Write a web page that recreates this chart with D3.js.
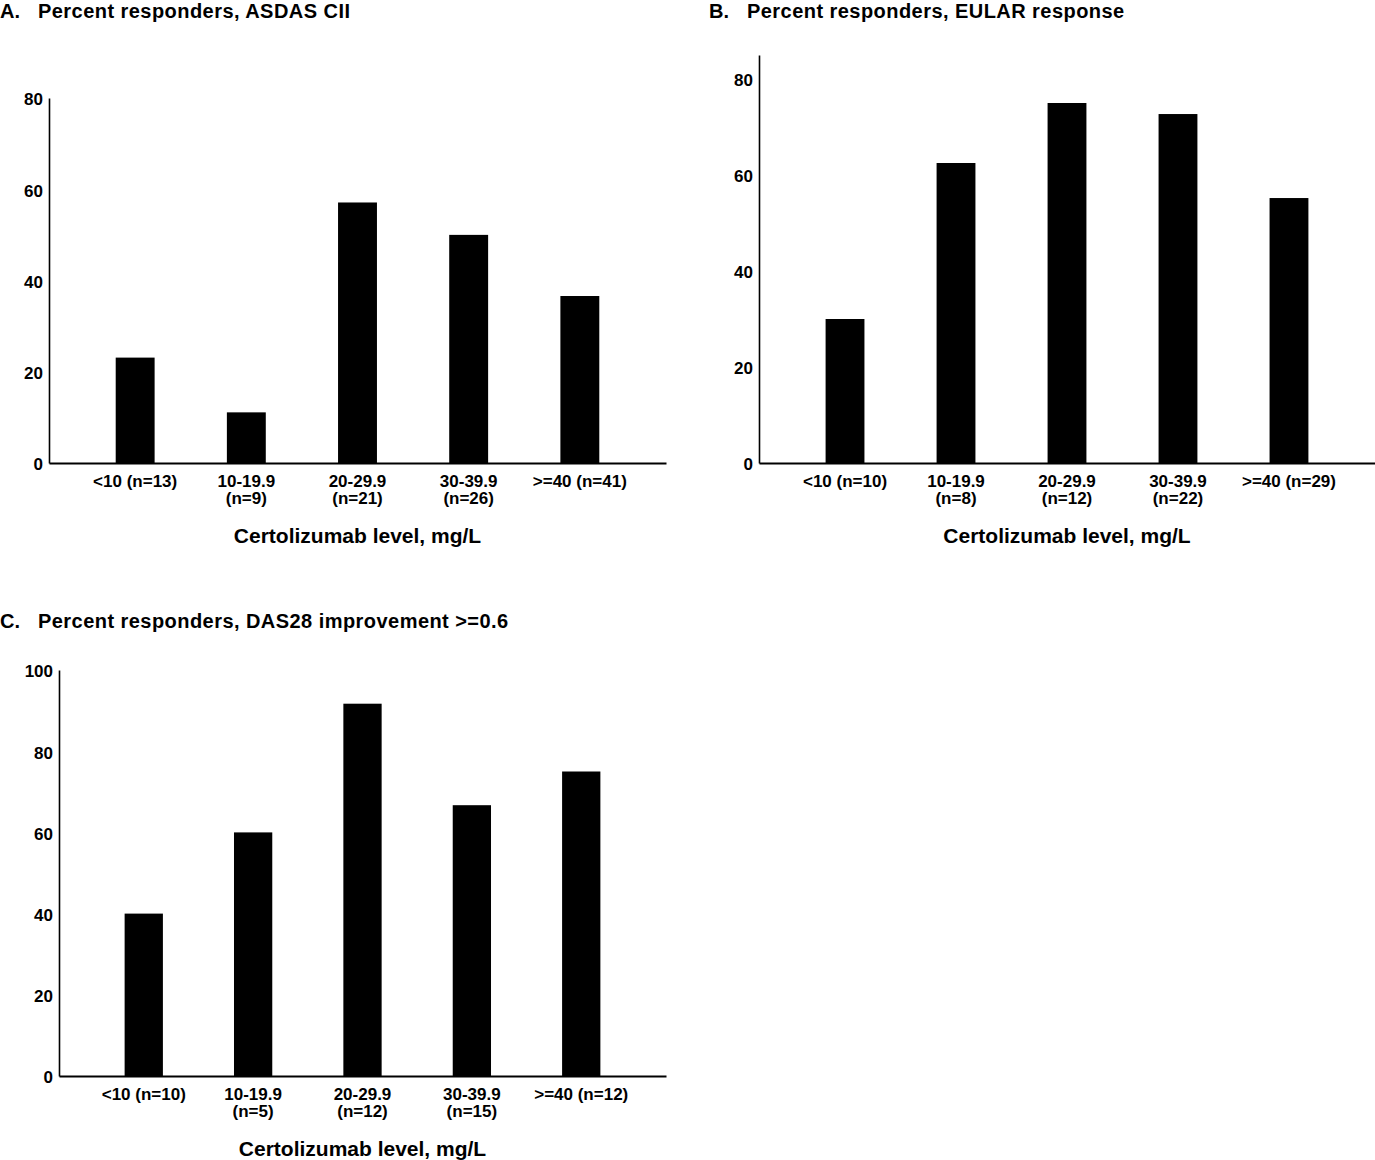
<!DOCTYPE html>
<html>
<head>
<meta charset="utf-8">
<script src="https://cdn.jsdelivr.net/npm/d3@7"></script>
<style>
  html, body { margin: 0; padding: 0; background: #fff; }
  svg { display: block; }
  text { font-family: "Liberation Sans", Arial, Helvetica, sans-serif; font-weight: bold; fill: #000; }
</style>
</head>
<body>
<svg id="chart" width="1375" height="1160"></svg>
<script>
// ---- Data ----
const categories = ["<10", "10-19.9", "20-29.9", "30-39.9", ">=40"];

const nA = [13, 9, 21, 26, 41];
const valuesA = [23.1, 11.1, 57.1, 50.0, 36.6];   // % responders, ASDAS CII

const nB = [10, 8, 12, 22, 29];
const valuesB = [30.0, 62.5, 75.0, 72.7, 55.2];   // % responders, EULAR response

const nC = [10, 5, 12, 15, 12];
const valuesC = [40.0, 60.0, 91.7, 66.7, 75.0];   // % responders, DAS28 improvement >=0.6

const ticksA = [0, 20, 40, 60, 80];
const ticksB = [0, 20, 40, 60, 80];
const ticksC = [0, 20, 40, 60, 80, 100];

const titleA = "Percent responders, ASDAS CII";
const titleB = "Percent responders, EULAR response";
const titleC = "Percent responders, DAS28 improvement >=0.6";
const xTitle = "Certolizumab level, mg/L";

// ---- Drawing ----
const svg = d3.select("#chart");

function panel(opts) {
  const g = svg.append("g");
  // panel heading
  g.append("text").attr("x", opts.titleX).attr("y", opts.titleY)
    .style("font-size", "20px").text(opts.letter);
  g.append("text").attr("x", opts.titleX + 38).attr("y", opts.titleY)
    .style("font-size", "20px").style("letter-spacing", "0.45px").text(opts.title);

  const x = d3.scalePoint().domain(categories).range([opts.x0, opts.x1]).padding(0.775);
  const y = d3.scaleLinear().domain([0, opts.yMax]).range([opts.y0, opts.yTop]);
  const bw = x.step() * 0.35;

  // bars
  g.selectAll("rect.bar").data(opts.values).join("rect")
    .attr("class", "bar")
    .attr("x", (d, i) => x(categories[i]) - bw / 2)
    .attr("width", bw)
    .attr("y", d => y(d))
    .attr("height", d => y(0) - y(d))
    .attr("fill", "#000");

  // y axis
  const yAxis = d3.axisLeft(y).tickValues(opts.ticks).tickSize(0).tickPadding(6);
  const ya = g.append("g").attr("transform", `translate(${opts.x0},0)`).call(yAxis);
  ya.select(".domain").attr("stroke", "#000").attr("stroke-width", 1.6);
  ya.selectAll(".tick text").style("font-size", "17px").attr("dy", "0.4em");

  // x axis
  const xAxis = d3.axisBottom(x).tickSize(0).tickFormat(() => "");
  const xa = g.append("g").attr("transform", `translate(0,${opts.y0})`).call(xAxis);
  xa.select(".domain").attr("stroke", "#000").attr("stroke-width", 2);

  // category labels
  categories.forEach((c, i) => {
    const t = g.append("text").attr("text-anchor", "middle")
      .attr("x", x(c)).attr("y", opts.y0 + 24).style("font-size", "17px");
    if (i === 0 || i === categories.length - 1) {
      t.text(`${c} (n=${opts.n[i]})`);
    } else {
      t.append("tspan").attr("x", x(c)).text(c);
      t.append("tspan").attr("x", x(c)).attr("dy", 17).text(`(n=${opts.n[i]})`);
    }
  });

  // x title
  g.append("text").attr("text-anchor", "middle")
    .attr("x", (opts.x0 + opts.x1) / 2).attr("y", opts.y0 + 80)
    .style("font-size", "21px").text(xTitle);
}

panel({ letter: "A.", title: titleA, titleX: 0, titleY: 18,
  values: valuesA, n: nA, ticks: ticksA, yMax: 80,
  x0: 49, x1: 666, y0: 463, yTop: 98 });

panel({ letter: "B.", title: titleB, titleX: 709, titleY: 18,
  values: valuesB, n: nB, ticks: ticksB, yMax: 85,
  x0: 759, x1: 1375, y0: 463, yTop: 55 });

panel({ letter: "C.", title: titleC, titleX: 0, titleY: 628,
  values: valuesC, n: nC, ticks: ticksC, yMax: 100,
  x0: 59, x1: 666, y0: 1076, yTop: 670 });
</script>
</body>
</html>
